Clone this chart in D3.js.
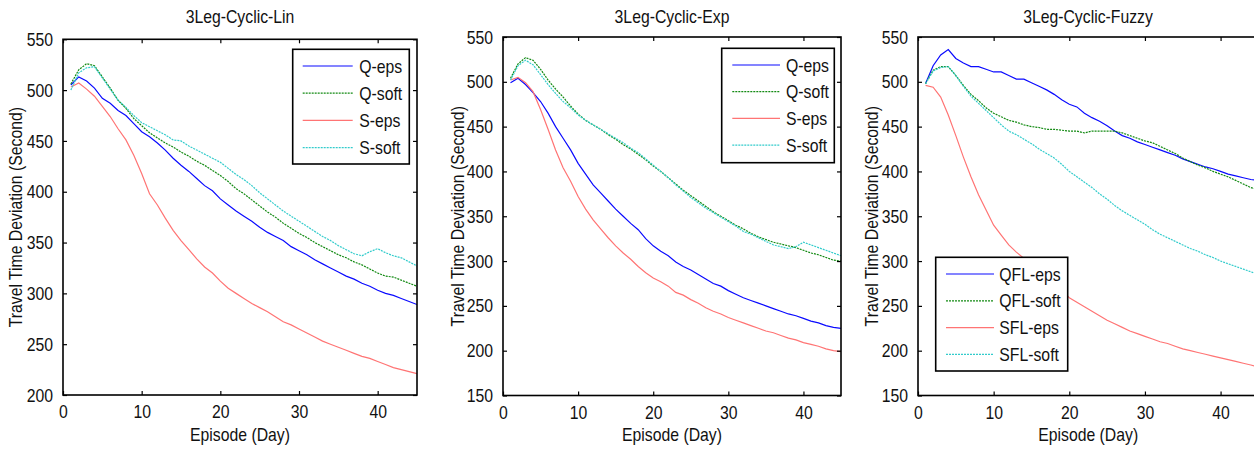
<!DOCTYPE html>
<html><head><meta charset="utf-8">
<script src="https://cdn.jsdelivr.net/npm/d3@7"></script>
<style>
body{margin:0;background:#fff}
svg{display:block;font-family:"Liberation Sans",Arial,sans-serif}
</style></head>
<body><svg id="chart" width="1254" height="450"></svg>
<script>
// ---------- data ----------
const episodes = [1,2,3,4,5,6,7,8,9,10,11,12,13,14,15,16,17,18,19,20,21,22,23,24,25,26,27,28,29,30,31,32,33,34,35,36,37,38,39,40,41,42,43,44,45];

const titles = ["3Leg-Cyclic-Lin","3Leg-Cyclic-Exp","3Leg-Cyclic-Fuzzy"];
const legendLin = ["Q-eps","Q-soft","S-eps","S-soft"];
const legendFuzzy = ["QFL-eps","QFL-soft","SFL-eps","SFL-soft"];
const xTicks = [0,10,20,30,40];
const yTicksLin = [200,250,300,350,400,450,500,550];
const yTicksExp = [150,200,250,300,350,400,450,500,550];
const xLabel = "Episode (Day)";
const yLabel = "Travel Time Deviation (Second)";

const linQeps  = [505,513,509,502,492,487,480,475,467,459,454,448,441,433,426,420,413,406,401,393,387,381,376,371,365,360,356,352,346,342,338,333,329,325,321,317,314,310,307,303,300,298,295,292,289];
const linQsoft = [506,520,526,524,513,502,490,482,472,465,458,453,448,444,439,435,430,426,421,416,410,403,398,392,386,380,375,369,364,359,355,350,346,342,338,335,331,328,324,320,317,316,313,310,307];
const linSeps  = [503,507,501,494,484,474,462,451,436,418,398,387,374,362,352,343,334,326,320,312,305,300,295,290,286,282,277,272,269,265,261,257,253,250,247,244,241,238,236,233,230,227,225,223,221];
const linSsoft = [500,517,522,523,512,501,490,483,475,468,464,460,456,451,450,445,441,437,433,429,423,417,412,406,399,393,387,381,376,371,366,361,356,352,347,343,339,337,341,344,340,337,335,331,327];

const expQeps  = [499,504,497,488,478,465,450,437,424,409,397,385,376,367,358,350,342,335,325,317,311,306,299,294,290,285,280,275,272,267,263,259,256,253,250,247,244,241,239,236,233,231,228,226,225];
const expQsoft = [504,520,527,524,514,502,492,483,473,464,457,452,447,441,436,430,425,419,413,406,400,393,386,379,373,367,361,355,350,345,340,336,331,327,324,321,319,317,315,312,309,307,304,301,300];
const expSeps  = [502,505,499,489,469,447,424,404,389,372,358,346,336,326,317,309,302,294,287,281,277,272,265,262,257,253,248,244,241,237,234,231,228,225,222,220,217,214,212,209,207,205,202,200,199];
const expSsoft = [502,518,524,519,508,497,487,478,471,463,457,452,447,442,437,432,426,421,414,407,400,393,385,378,371,365,359,354,349,344,339,333,330,326,322,318,316,314,316,321,318,315,312,309,306];

const fuzQeps  = [498,518,530,536,526,521,517,517,514,511,511,507,503,503,499,495,491,486,480,475,472,465,460,456,451,445,440,437,433,430,427,424,421,418,414,411,408,405,403,400,397,395,393,391,390];
const fuzQsoft = [498,513,517,517,507,496,486,479,471,465,461,457,455,452,450,449,447,447,446,445,445,443,445,445,445,445,443,440,437,434,432,428,424,420,415,411,407,404,400,397,394,390,386,382,380];
const fuzSeps  = [496,494,483,463,440,416,394,374,357,340,329,318,310,303,296,289,283,275,267,259,254,249,244,239,234,230,226,222,219,216,213,210,208,205,202,200,198,196,194,192,190,188,186,184,182];
const fuzSsoft = [498,512,516,517,507,495,484,476,468,460,452,445,441,436,431,425,420,415,408,400,394,388,382,375,369,362,356,351,346,341,335,330,326,322,318,314,311,307,304,300,297,294,291,288,285];

// ---------- styles ----------
const styles = [
  {color:"#0a0aff", dash:null},
  {color:"#138a13", dash:"2,1"},
  {color:"#ff7474", dash:null},
  {color:"#33cccc", dash:"2,1"}
];

const panels = [
  {title:titles[0], names:legendLin, data:[linQeps,linQsoft,linSeps,linSsoft], yTicks:yTicksLin,
   box:{l:63,r:417,t:39.3,b:395}, ylabX:15,
   leg:{x:292.7,y:49.3,w:116.6,h:114.7,l1:302.7,l2:352.7,tx:359.3,y0:66,dy:27.2}},
  {title:titles[1], names:legendLin, data:[expQeps,expQsoft,expSeps,expSsoft], yTicks:yTicksExp,
   box:{l:503,r:841,t:37,b:395.5}, ylabX:457.5,
   leg:{x:721.7,y:48.3,w:112.6,h:114.4,l1:732.3,l2:780,tx:786,y0:65,dy:26.7}},
  {title:titles[2], names:legendFuzzy, data:[fuzQeps,fuzQsoft,fuzSeps,fuzSsoft], yTicks:yTicksExp,
   box:{l:918,r:1258.4,t:37,b:395.5}, ylabX:871.5,
   leg:{x:935.7,y:257.3,w:132,h:113.7,l1:946,l2:994,tx:999.3,y0:274,dy:26.8}}
];

const svg = d3.select("#chart");
const FS = 19;
const NARROW = 0.83;

panels.forEach((p,pi) => {
  const B = p.box;
  const x = d3.scaleLinear().domain([0,45]).range([B.l,B.r]);
  const y = d3.scaleLinear().domain([p.yTicks[0], p.yTicks[p.yTicks.length-1]]).range([B.b,B.t]);
  const g = svg.append("g");

  const clipId = "clip"+pi;
  svg.append("clipPath").attr("id",clipId).append("rect")
    .attr("x",B.l).attr("y",B.t).attr("width",B.r-B.l).attr("height",B.b-B.t);

  // lines
  const line = d3.line().x((d,i)=>x(episodes[i])).y(d=>y(d));
  const lg = g.append("g").attr("clip-path",`url(#${clipId})`);
  p.data.forEach((s,si) => {
    lg.append("path").datum(s).attr("d",line)
      .attr("fill","none").attr("stroke",styles[si].color)
      .attr("stroke-width",1.2)
      .attr("stroke-dasharray",styles[si].dash);
  });

  // axes (ticks inward)
  const tl = 4;
  g.append("g").attr("transform",`translate(0,${B.b})`)
    .call(d3.axisBottom(x).tickValues(xTicks).tickSizeInner(-tl).tickSizeOuter(0).tickPadding(10))
    .call(a=>a.select(".domain").remove());
  g.append("g").attr("transform",`translate(0,${B.t})`)
    .call(d3.axisTop(x).tickValues(xTicks).tickSizeInner(-tl).tickSizeOuter(0).tickFormat(""))
    .call(a=>a.select(".domain").remove());
  g.append("g").attr("transform",`translate(${B.l},0)`)
    .call(d3.axisLeft(y).tickValues(p.yTicks).tickSizeInner(-tl).tickSizeOuter(0).tickPadding(10))
    .call(a=>a.select(".domain").remove());
  g.append("g").attr("transform",`translate(${B.r},0)`)
    .call(d3.axisRight(y).tickValues(p.yTicks).tickSizeInner(-tl).tickSizeOuter(0).tickFormat(""))
    .call(a=>a.select(".domain").remove());
  g.selectAll(".tick line").attr("stroke","#000").attr("stroke-width",1.2);
  g.selectAll(".tick text").attr("font-size",FS).attr("fill","#111").attr("font-family",null);

  // frame
  g.append("rect").attr("x",B.l).attr("y",B.t).attr("width",B.r-B.l).attr("height",B.b-B.t)
    .attr("fill","none").attr("stroke","#000").attr("stroke-width",1.6);

  // title & labels
  g.append("text").attr("x",(B.l+Math.min(B.r,1258))/2).attr("y",23).attr("text-anchor","middle")
    .attr("font-size",FS).attr("fill","#111").text(p.title);
  g.append("text").attr("x",(B.l+B.r)/2).attr("y",441).attr("text-anchor","middle")
    .attr("font-size",FS).attr("fill","#111").text(xLabel);
  g.append("text").attr("transform",`translate(${p.ylabX},${(B.t+B.b)/2}) rotate(-90)`)
    .attr("text-anchor","middle").attr("dominant-baseline","central")
    .attr("font-size",FS).attr("fill","#111").text(yLabel);

  // legend
  const L = p.leg;
  const lgd = g.append("g");
  lgd.append("rect").attr("x",L.x).attr("y",L.y).attr("width",L.w).attr("height",L.h)
    .attr("fill","#fff").attr("stroke","#000").attr("stroke-width",1.6);
  p.names.forEach((n,i) => {
    const yy = L.y0 + i*L.dy;
    lgd.append("line").attr("x1",L.l1).attr("x2",L.l2).attr("y1",yy).attr("y2",yy)
      .attr("stroke",styles[i].color).attr("stroke-width",1.2).attr("stroke-dasharray",styles[i].dash);
    lgd.append("text").attr("x",L.tx).attr("y",yy).attr("dominant-baseline","central")
      .attr("font-size",FS).attr("fill","#111").text(n);
  });
});

// condense all text to mimic the narrow face of the original
svg.selectAll("text").each(function(){
  const len = this.getComputedTextLength();
  if (len > 0) d3.select(this).attr("textLength", len*NARROW).attr("lengthAdjust","spacingAndGlyphs");
});
</script></body></html>
